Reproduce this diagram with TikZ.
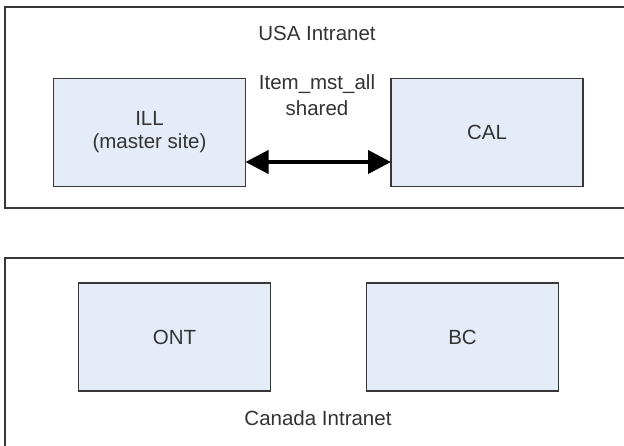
\documentclass[tikz,border=0pt]{standalone}
\usepackage{fontspec}
\setmainfont{Liberation Sans}
\usepackage{tikz}
\usetikzlibrary{arrows.meta}

\definecolor{sitefill}{RGB}{230,236,247}
\definecolor{siteline}{RGB}{55,55,55}

\begin{document}
\begin{tikzpicture}[x=1pt,y=-1pt,
    site/.style={draw=siteline,line width=1.6pt,fill=sitefill,minimum width=192pt,minimum height=108pt,
                 outer sep=0pt,align=center,font=\fontsize{20.5}{23}\selectfont,text=black!80},
    net/.style={draw=siteline,line width=1.4pt},
    lbl/.style={align=center,font=\fontsize{20.5}{26}\selectfont,text=black!80}]
\useasboundingbox (0,0) rectangle (624,445);
% the two intranets, cut by the page on the right (and at the bottom)
\draw[net] (630,7) -- (5,7) -- (5,208) -- (630,208);
\draw[net] (630,258) -- (5,258) -- (5,450);
% sites
\node[site] (ill) at (149.5,132.5) {ILL\\(master site)};
\node[site] (cal) at (487,132.5) {CAL};
\node[site] (ont) at (174.5,337) {ONT};
\node[site] (bc)  at (462.5,337) {BC};
% labels
\node[lbl] (usa) at (317,33) {USA Intranet};
\node[lbl] (share) at (317,95) {Item\_mst\_all\\shared};
\node[lbl] (can) at (318,418) {Canada Intranet};
% the shared table
\draw[{Triangle[length=23pt,width=23pt]}-{Triangle[length=23pt,width=23pt]},line width=4pt]
    (ill.east |- 0,162) -- (cal.west |- 0,162);
\end{tikzpicture}
\end{document}
